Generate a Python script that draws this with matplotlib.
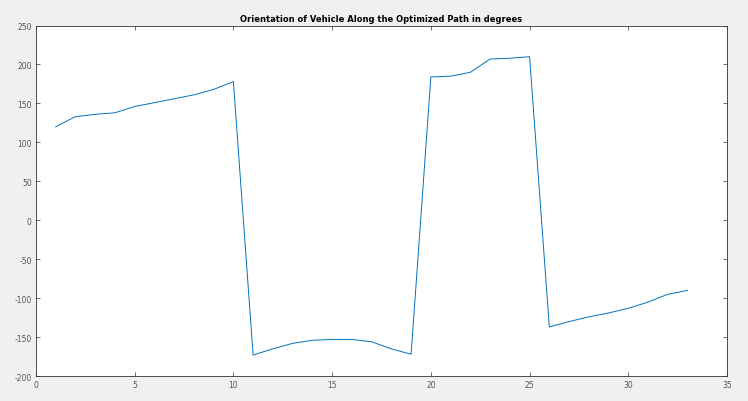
import matplotlib
matplotlib.use("Agg")
import matplotlib.pyplot as plt

plt.rcParams["axes.unicode_minus"] = False

# heading angle at each waypoint (degrees)
step = list(range(1, 34))
heading = [120, 133, 136, 138, 146, 151, 156, 161, 168, 178,
           -173, -165, -158, -154, -153, -153, -156, -165, -172,
           184, 185, 190, 207, 208, 210,
           -137, -130, -124, -119, -113, -105, -95, -90]

fig = plt.figure(figsize=(7.48, 4.02), dpi=100, facecolor="#f0f0f0")
ax = fig.add_axes([0.048, 0.062, 0.924, 0.872])
ax.plot(step, heading, color="#0072BD", linewidth=0.7)

ax.set_xlim(0, 35)
ax.set_ylim(-200, 250)
ax.set_xticks(range(0, 36, 5))
ax.set_yticks(range(-200, 251, 50))
ax.tick_params(direction="in", top=True, right=True, labelsize=5.5,
               colors="#555555", length=3, width=0.6, pad=3)
for s in ax.spines.values():
    s.set_color("#333333")
    s.set_linewidth(0.6)

ax.set_title("Orientation of Vehicle Along the Optimized Path in degrees",
             fontsize=6, fontweight="bold", pad=3)

fig.savefig("out.png", dpi=100, facecolor=fig.get_facecolor())
